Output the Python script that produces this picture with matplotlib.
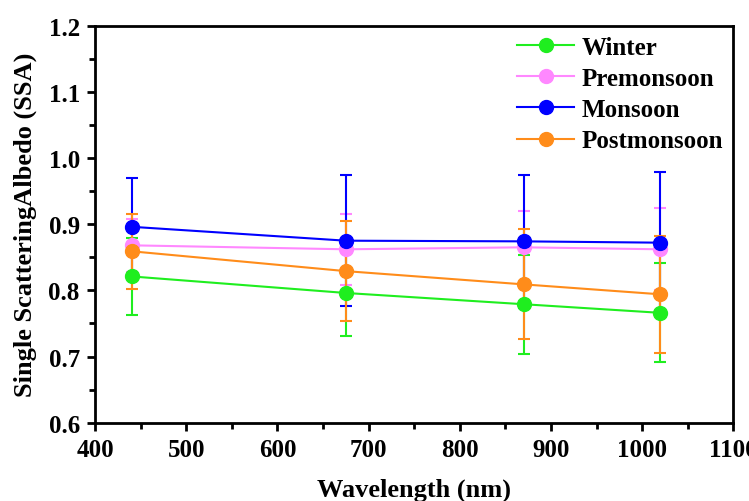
import matplotlib.pyplot as plt

wavelength = [440, 675, 870, 1020]

winter = [0.821, 0.796, 0.779, 0.766]
winter_err = [0.058, 0.065, 0.075, 0.075]
premonsoon = [0.868, 0.862, 0.865, 0.862]
premonsoon_err = [0.040, 0.054, 0.055, 0.062]
monsoon = [0.896, 0.875, 0.874, 0.872]
monsoon_err = [0.073, 0.099, 0.101, 0.107]
postmonsoon = [0.859, 0.829, 0.809, 0.794]
postmonsoon_err = [0.057, 0.075, 0.083, 0.088]

names = ["Winter", "Premonsoon", "Monsoon", "Postmonsoon"]
colors = ["#1fee1f", "#ff88ff", "#0000ff", "#ff8c1a"]

plt.rcParams['font.family'] = ['Liberation Serif', 'DejaVu Serif']
plt.rcParams['font.weight'] = 'bold'

fig = plt.figure(figsize=(7.49, 5.02), dpi=100)
ax = fig.add_axes([0.127, 0.156, 0.852, 0.791])

series = [(winter, winter_err), (premonsoon, premonsoon_err),
          (monsoon, monsoon_err), (postmonsoon, postmonsoon_err)]
handles = []
for (vals, errs), name, col in zip(series, names, colors):
    eb = ax.errorbar(wavelength, vals, yerr=errs, color=col, marker='o',
                     markersize=10, lw=1.5, capsize=4.5, capthick=1.5,
                     elinewidth=1.5, label=name)
    handles.append(eb[0])

ax.set_xlim(400, 1100)
ax.set_ylim(0.6, 1.2)
ax.set_xticks(range(400, 1101, 100))
ax.set_xticks(range(450, 1100, 100), minor=True)
ax.set_yticks([0.6, 0.7, 0.8, 0.9, 1.0, 1.1, 1.2])
ax.set_yticks([0.65, 0.75, 0.85, 0.95, 1.05, 1.15], minor=True)
ax.tick_params(axis='both', which='major', direction='out', length=6, width=2,
               labelsize=18, pad=5)
ax.tick_params(axis='both', which='minor', direction='out', length=4, width=2)
for s in ax.spines.values():
    s.set_linewidth(2)
for lab in ax.get_xticklabels() + ax.get_yticklabels():
    lab.set_fontweight('bold')

ax.set_xlabel("Wavelength (nm)", fontsize=19, fontweight='bold', labelpad=12)
ax.set_ylabel("Single ScatteringAlbedo (SSA)", fontsize=19, fontweight='bold',
              labelpad=8)

leg = ax.legend(handles=handles, labels=names, loc='upper right', frameon=False,
                fontsize=18, handlelength=2.3, borderaxespad=0.0,
                labelspacing=0.33, handletextpad=0.3)
for t in leg.get_texts():
    t.set_fontweight('bold')

fig.savefig("out.png", dpi=100)
